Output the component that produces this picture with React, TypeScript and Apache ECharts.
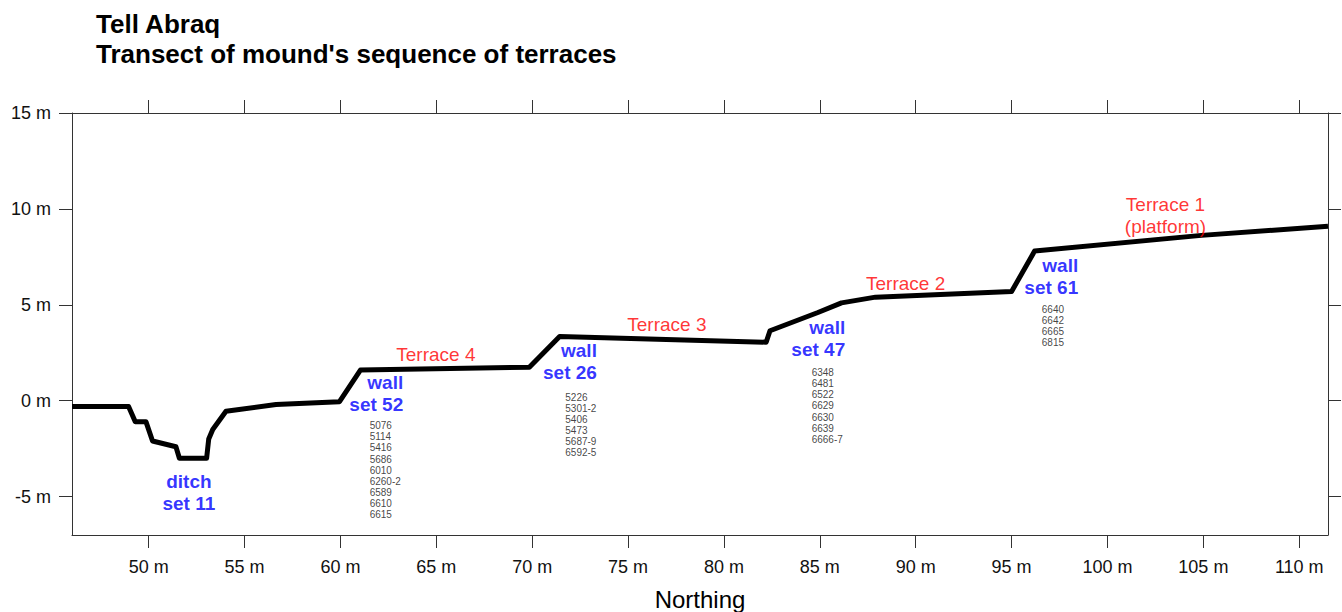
import React, { useEffect, useRef } from "react";
import * as echarts from "echarts";

// Transect profile (northing in m, elevation in m)
const northing = [
  46.0, 48.95, 49.3, 49.86, 50.2, 51.42, 51.6, 53.02, 53.13, 53.34, 54.03, 56.64,
  59.95, 61.04, 69.85, 71.43, 82.2, 82.4, 84.9, 86.13, 87.9, 95.0, 96.2, 104.9, 111.5,
];
const elevation = [
  -0.3, -0.3, -1.1, -1.1, -2.1, -2.4, -3.0, -3.0, -2.0, -1.5, -0.55, -0.2,
  -0.05, 1.6, 1.75, 3.35, 3.05, 3.65, 4.6, 5.1, 5.4, 5.7, 7.8, 8.62, 9.1,
];

const xTicks = [50, 55, 60, 65, 70, 75, 80, 85, 90, 95, 100, 105, 110];
const yTicks = [-5, 0, 5, 10, 15];

const terraceNames = ["Terrace 4", "Terrace 3", "Terrace 2", "Terrace 1\n(platform)"];
const terraceX = [65.0, 77.05, 89.5, 103.05];
const terraceY = [2.4, 3.95, 6.1, 9.65];

const featureNames = ["ditch\nset 11", "wall\nset 52", "wall\nset 26", "wall\nset 47", "wall\nset 61"];
const featureX = [52.12, 63.3, 73.4, 86.35, 98.5];
const featureY = [-4.8, 0.35, 2.0, 3.2, 6.45];

const contextNumbers = [
  ["5076", "5114", "5416", "5686", "6010", "6260-2", "6589", "6610", "6615"],
  ["5226", "5301-2", "5406", "5473", "5687-9", "6592-5"],
  ["6348", "6481", "6522", "6629", "6630", "6639", "6666-7"],
  ["6640", "6642", "6665", "6815"],
];
const contextX = [61.55, 71.75, 84.6, 96.6];
const contextY = [-3.64, -1.3, -0.3, 3.85];

const FONT = "'Liberation Sans', Arial, Helvetica, sans-serif";
const AXIS_COLOR = "#333";

function buildOption(): any {
  const lineData = northing.map((x, i) => [x, elevation[i]]);
  const terraceData = terraceNames.map((n, i) => ({ name: n, value: [terraceX[i], terraceY[i]] }));
  const featureData = featureNames.map((n, i) => ({
    name: n,
    value: [featureX[i], featureY[i]],
    label: { align: i === 0 ? "center" : "right" },
  }));
  const contextData = contextNumbers.map((list, i) => ({
    name: list.join("\n"),
    value: [contextX[i], contextY[i]],
  }));

  const xCommon = {
    type: "value",
    min: 46,
    max: 111.5,
    splitLine: { show: false },
    axisLine: { show: true, onZero: false, lineStyle: { color: AXIS_COLOR, width: 1 } },
    axisTick: { show: true, inside: false, length: 13, customValues: xTicks, lineStyle: { color: AXIS_COLOR, width: 1 } },
  };
  const yCommon = {
    type: "value",
    min: -7,
    max: 15,
    splitLine: { show: false },
    axisLine: { show: true, onZero: false, lineStyle: { color: AXIS_COLOR, width: 1 } },
    axisTick: { show: true, inside: false, length: 13, customValues: yTicks, lineStyle: { color: AXIS_COLOR, width: 1 } },
  };

  const hiddenSymbol = {
    type: "scatter",
    symbolSize: 1,
    itemStyle: { color: "transparent" },
    silent: true,
    z: 5,
  };

  return {
    animation: false,
    backgroundColor: "#ffffff",
    title: {
      text: "Tell Abraq\nTransect of mound's sequence of terraces",
      left: 96,
      top: 9,
      padding: 0,
      textStyle: { fontFamily: FONT, fontSize: 26, fontWeight: "bold", color: "#000", lineHeight: 30 },
    },
    grid: { left: 72, right: 14, top: 113, bottom: 77, containLabel: false, outerBoundsMode: "none" },
    xAxis: [
      {
        ...xCommon,
        position: "bottom",
        name: "Northing",
        nameLocation: "middle",
        nameGap: 52,
        nameTextStyle: { fontFamily: FONT, fontSize: 24, color: "#000" },
        axisLabel: { show: true, customValues: xTicks, formatter: "{value} m", fontFamily: FONT, fontSize: 18, color: "#111", margin: 23 },
      },
      {
        ...xCommon,
        position: "top",
        axisLabel: { show: false },
      },
    ],
    yAxis: [
      {
        ...yCommon,
        position: "left",
        axisLabel: { show: true, customValues: yTicks, formatter: "{value} m", fontFamily: FONT, fontSize: 18, color: "#111", margin: 21 },
      },
      {
        ...yCommon,
        position: "right",
        axisLabel: { show: false },
      },
    ],
    series: [
      {
        type: "line",
        data: lineData,
        xAxisIndex: 0,
        yAxisIndex: 0,
        showSymbol: false,
        symbol: "none",
        smooth: false,
        lineStyle: { color: "#000", width: 5, join: "round" },
        z: 3,
      },
      {
        ...hiddenSymbol,
        data: terraceData,
        label: {
          show: true,
          position: [0, 0],
          formatter: "{b}",
          align: "center",
          verticalAlign: "middle",
          fontFamily: FONT,
          fontSize: 19,
          lineHeight: 22,
          color: "#ff0000",
        },
      },
      {
        ...hiddenSymbol,
        data: featureData,
        label: {
          show: true,
          position: [0, 0],
          formatter: "{b}",
          align: "right",
          verticalAlign: "middle",
          fontFamily: FONT,
          fontSize: 19,
          fontWeight: "bold",
          lineHeight: 22,
          color: "#0000ff",
        },
      },
      {
        ...hiddenSymbol,
        data: contextData,
        label: {
          show: true,
          position: [0, 0],
          formatter: "{b}",
          align: "left",
          verticalAlign: "middle",
          fontFamily: FONT,
          fontSize: 10,
          lineHeight: 11.05,
          color: "#111",
        },
      },
    ],
  };
}

export default function App() {
  const ref = useRef<HTMLDivElement>(null);
  useEffect(() => {
    if (!ref.current) return;
    const chart = echarts.init(ref.current, null, { renderer: "svg" });
    chart.setOption(buildOption());
    return () => chart.dispose();
  }, []);
  return (
    <div
      ref={ref}
      style={{ position: "fixed", left: 0, top: 0, width: 1342, height: 612, background: "#fff" }}
    />
  );
}
